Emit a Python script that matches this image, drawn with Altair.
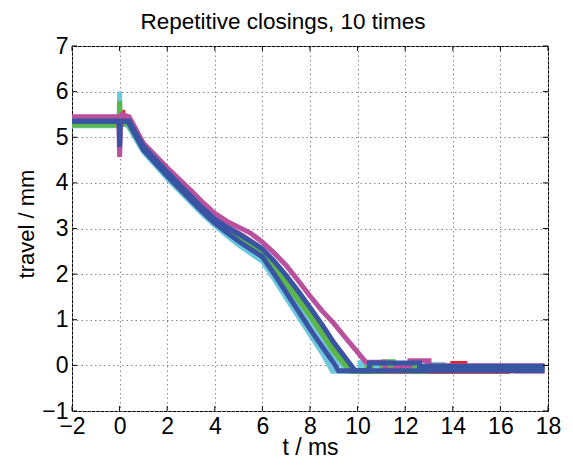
import altair as alt
import pandas as pd

title_text = "Repetitive closings, 10 times"
x_title = "t / ms"
y_title = "travel / mm"
x_ticks = list(range(-2, 19, 2))
y_ticks = list(range(-1, 8))

# ---- runs (time in ms, travel in mm) ----
mag_b_t = [-2, 0.4, 1, 2, 3, 3.5, 4, 4.5, 5, 5.5, 6, 6.5, 7, 7.5, 8, 8.5, 9, 9.85, 17.85]
mag_b_v = [5.4, 5.4, 4.82, 4.26, 3.72, 3.46, 3.22, 3.05, 2.9, 2.73, 2.55, 2.27, 1.95, 1.6, 1.25, 0.87, 0.48, -0.12, -0.12]

red_a_t = [-2, 0.1, 0.13, 0.16, 0.4, 1, 2, 3, 3.5, 4, 4.5, 5, 5.5, 6, 6.5, 7, 7.5, 8, 8.5, 9, 9.8,
           14.0, 14.0, 14.5, 14.5, 17.85]
red_a_v = [5.33, 5.33, 5.6, 5.33, 5.33, 4.76, 4.2, 3.67, 3.41, 3.17, 2.99, 2.82, 2.65, 2.47, 2.18, 1.86, 1.52, 1.17, 0.79, 0.4, -0.12,
           -0.12, 0.04, 0.04, -0.03, -0.03]

cyan_b_t = [-2, 0.3, 1, 2, 3, 3.5, 4, 4.5, 5, 5.5, 6, 6.5, 7, 7.5, 8, 8.5, 9, 9.55,
            10.3, 10.3, 11.0, 11.0, 17.85]
cyan_b_v = [5.3, 5.3, 4.73, 4.16, 3.62, 3.36, 3.12, 2.93, 2.75, 2.58, 2.4, 2.07, 1.72, 1.36, 1.0, 0.62, 0.22, -0.13,
            -0.13, 0.04, 0.04, -0.05, -0.05]

red_b_t = [-2, 0.4, 1, 2, 3, 3.5, 4, 4.5, 5, 5.5, 6, 6.5, 7, 7.5, 8, 8.5, 9, 9.8,
           16.3, 16.3, 16.7, 16.7, 17.85]
red_b_v = [5.3, 5.3, 4.75, 4.18, 3.65, 3.4, 3.15, 2.97, 2.8, 2.63, 2.45, 2.16, 1.84, 1.5, 1.15, 0.77, 0.38, -0.13,
           -0.13, -0.03, -0.03, -0.12, -0.12]

green_b_t = [-2, 0.35, 1, 2, 3, 3.5, 4, 4.5, 5, 5.5, 6, 6.5, 7, 7.5, 8, 8.5, 9, 9.7,
             10.4, 10.4, 17.85]
green_b_v = [5.27, 5.3, 4.73, 4.16, 3.63, 3.37, 3.13, 2.94, 2.77, 2.6, 2.42, 2.11, 1.79, 1.44, 1.08, 0.7, 0.3, -0.13,
             -0.13, -0.05, -0.05]

cyan_a_t = [-2, -0.02, 0, 0.02, 0.3, 1, 2, 3, 3.5, 4, 4.5, 5, 5.5, 6, 6.5, 7, 7.5, 8, 8.5, 8.95,
            10.1, 10.1, 10.8, 10.8, 12.9, 12.9, 13.6, 13.6, 17.85]
cyan_a_v = [5.25, 5.25, 6.0, 5.3, 5.3, 4.68, 4.1, 3.57, 3.31, 3.07, 2.85, 2.64, 2.46, 2.28, 1.89, 1.48, 1.08, 0.68, 0.28, -0.13,
            -0.13, 0.06, 0.06, -0.12, -0.12, 0.02, 0.02, -0.08, -0.08]

green_a_t = [-2, -0.02, 0, 0.02, 0.35, 1, 2, 3, 3.5, 4, 4.5, 5, 5.5, 6, 6.5, 7, 7.5, 8, 8.5, 9, 9.75,
             11.1, 11.1, 11.5, 11.5, 12.2, 12.2, 12.8, 12.8, 17.85]
green_a_v = [5.27, 5.27, 5.8, 5.27, 5.3, 4.75, 4.18, 3.65, 3.39, 3.15, 2.97, 2.8, 2.63, 2.45, 2.15, 1.83, 1.48, 1.13, 0.75, 0.36, -0.13,
             -0.13, 0.08, 0.08, -0.03, -0.03, -0.13, -0.13, -0.03, -0.03]

mag_a_t = [-2, -0.03, 0.0, 0.05, 0.1, 0.4, 1, 2, 3, 3.5, 4, 4.5, 5, 5.5, 6, 6.5, 7, 7.5, 8, 8.5, 9, 9.5, 10.35,
           11.15, 11.15, 11.6, 11.6, 12.2, 12.2, 13.0, 13.0, 17.85]
mag_a_v = [5.45, 5.45, 4.57, 5.45, 5.5, 5.45, 4.87, 4.33, 3.83, 3.57, 3.33, 3.16, 3.03, 2.9, 2.7, 2.46, 2.19, 1.86, 1.52, 1.2, 0.92, 0.6, 0.07,
           0.07, -0.1, -0.1, 0.0, 0.0, 0.1, 0.1, -0.01, -0.01]

blue_a_t = [-2, -0.02, 0, 0.03, 0.35, 1, 2, 3, 3.5, 4, 4.5, 5, 5.5, 6, 6.5, 7, 7.5, 8, 8.5, 9, 9.2, 17.85]
blue_a_v = [5.35, 5.35, 4.79, 5.35, 5.35, 4.72, 4.15, 3.62, 3.36, 3.12, 2.91, 2.72, 2.55, 2.38, 2.0, 1.6, 1.2, 0.8, 0.42, 0.05, -0.12, -0.12]

blue_b_t = [-2, 0.4, 1, 2, 3, 3.5, 4, 4.5, 5, 5.5, 6, 6.5, 7, 7.5, 8, 8.5, 9, 9.9,
            10.5, 10.5, 12.6, 12.6, 17.85]
blue_b_v = [5.35, 5.35, 4.8, 4.24, 3.7, 3.44, 3.2, 3.03, 2.88, 2.72, 2.55, 2.28, 1.97, 1.63, 1.27, 0.9, 0.5, -0.12,
            -0.12, 0.05, 0.05, -0.02, -0.02]

MAGENTA = "#B9519F"
BLUE = "#3A54A4"
GREEN = "#5DB648"
CYAN = "#6CC8DD"
RED = "#EC2227"

runs = [
    (mag_b_t, mag_b_v, MAGENTA),
    (red_a_t, red_a_v, RED),
    (cyan_b_t, cyan_b_v, CYAN),
    (red_b_t, red_b_v, RED),
    (green_b_t, green_b_v, GREEN),
    (cyan_a_t, cyan_a_v, CYAN),
    (green_a_t, green_a_v, GREEN),
    (mag_a_t, mag_a_v, MAGENTA),
    (blue_a_t, blue_a_v, BLUE),
    (blue_b_t, blue_b_v, BLUE),
]

W, H = 476, 365
FONT = "Liberation Sans"

xs = alt.Scale(domain=[-2, 18], nice=False, zero=False)
ys = alt.Scale(domain=[-1, 7], nice=False, zero=False)

common_axis = dict(
    grid=True, gridDash=[1.5, 3], gridColor="#8a8a8a", gridWidth=1,
    ticks=False, domain=False, format="d",
    labelFont=FONT, labelFontSize=23, labelColor="black",
    labelPadding=4, labelFlush=False, labelOverlap=False, labelBound=False,
    titleFont=FONT, titleFontWeight="normal", titleColor="black",
    titleBaseline="alphabetic", titleAlign="center",
)
x_axis = alt.Axis(values=x_ticks, title=x_title, titleX=W / 2, titleY=43, titleFontSize=23, **common_axis)
y_axis = alt.Axis(values=y_ticks, title=y_title, titleAngle=270, titleX=-39, titleY=H / 2 - 5,
                  titleFontSize=22, **common_axis)

layers = []
for t_vals, v_vals, col in runs:
    df = pd.DataFrame({"t": t_vals, "v": v_vals, "i": list(range(len(t_vals)))})
    layers.append(
        alt.Chart(df).mark_line(strokeWidth=5, color=col, clip=True,
                                strokeCap="butt", strokeJoin="miter").encode(
            x=alt.X("t:Q", scale=xs, axis=x_axis),
            y=alt.Y("v:Q", scale=ys, axis=y_axis),
            order=alt.Order("i:Q"),
        )
    )

xt_df = pd.DataFrame({"xt": x_ticks})
yt_df = pd.DataFrame({"yt": y_ticks})
tick_len = 5
bottom_ticks = alt.Chart(xt_df).mark_rule(color="black", strokeWidth=1).encode(
    x=alt.X("xt:Q", scale=xs, axis=x_axis), y=alt.value(H), y2=alt.value(H - tick_len))
top_ticks = alt.Chart(xt_df).mark_rule(color="black", strokeWidth=1).encode(
    x=alt.X("xt:Q", scale=xs, axis=x_axis), y=alt.value(0), y2=alt.value(tick_len))
left_ticks = alt.Chart(yt_df).mark_rule(color="black", strokeWidth=1).encode(
    y=alt.Y("yt:Q", scale=ys, axis=y_axis), x=alt.value(0), x2=alt.value(tick_len))
right_ticks = alt.Chart(yt_df).mark_rule(color="black", strokeWidth=1).encode(
    y=alt.Y("yt:Q", scale=ys, axis=y_axis), x=alt.value(W), x2=alt.value(W - tick_len))

chart = alt.layer(*layers, bottom_ticks, top_ticks, left_ticks, right_ticks).properties(
    width=W, height=H,
    title=alt.TitleParams(title_text, font=FONT, fontSize=22.5, fontWeight="normal",
                          color="black", anchor="middle", dx=-27, offset=2),
    autosize=alt.AutoSizeParams(type="none"),
    padding={"left": 64, "top": 38, "right": 17, "bottom": 46},
    background="white",
).configure_view(stroke="black", strokeWidth=1)

chart.save("out.html", embed_options={"renderer": "svg", "actions": False})
